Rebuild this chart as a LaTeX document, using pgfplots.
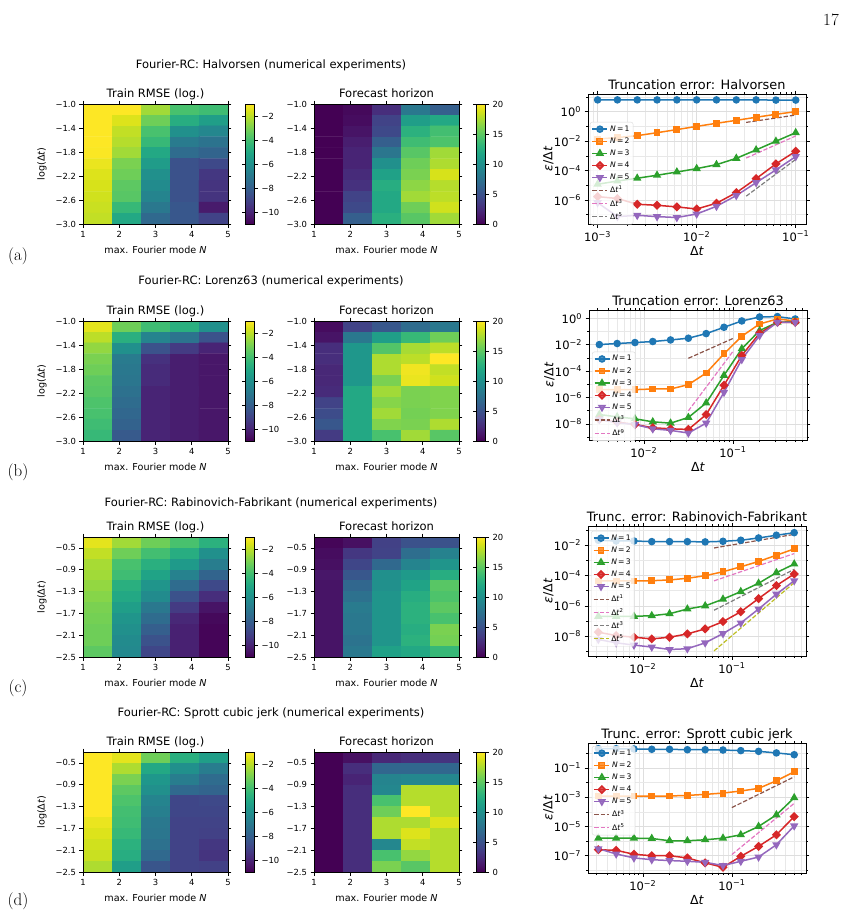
\documentclass[border=0pt]{standalone}
\usepackage{fontspec}
\usepackage{pgfplots}
\pgfplotsset{compat=1.18}
\newfontfamily\dv{DejaVu Sans}
\newcommand\hmtick{\dv\fontsize{8.4}{10}\selectfont}
\newcommand\hmlab{\dv\fontsize{9.6}{11}\selectfont}
\newcommand\hmtitle{\dv\fontsize{11.5}{13}\selectfont}
\newcommand\lptick{\dv\fontsize{11.5}{13}\selectfont}
\newcommand\lptitle{\dv\fontsize{12.9}{15}\selectfont}
\newcommand\lplab{\dv\fontsize{12.5}{15}\selectfont}
\newcommand\lgfont{\dv\fontsize{7.6}{9}\selectfont}

\definecolor{tabblue}{HTML}{1F77B4}
\definecolor{taborange}{HTML}{FF7F0E}
\definecolor{tabgreen}{HTML}{2CA02C}
\definecolor{tabred}{HTML}{D62728}
\definecolor{tabpurple}{HTML}{9467BD}
\definecolor{tabbrown}{HTML}{8C564B}
\definecolor{tabpink}{HTML}{E377C2}
\definecolor{tabgray}{HTML}{7F7F7F}
\definecolor{tabolive}{HTML}{BCBD22}

\pgfplotsset{
  heat axis/.style={
    scale only axis, width=145pt, height=120pt, enlargelimits=false,
    xmin=1, xmax=5, xtick={1,2,3,4,5}, xticklabels={1,2,3,4,5},
    tick align=outside, major tick length=3.5pt,
    every tick/.style={black, line width=0.6pt},
    axis line style={black, line width=0.6pt},
    tick label style={font=\hmtick},
    xlabel={max. Fourier mode \textit{N}},
    xlabel style={font=\hmlab, at={(0.5,-0.22)}, anchor=center},
    ylabel style={font=\hmlab, at={(-0.283,0.5)}, anchor=center},
    title style={font=\hmtitle, at={(0.5,1)}, anchor=base, yshift=0.5pt},
    colormap/viridis, axis on top,
    colorbar,
    colorbar style={at={(parent axis.north east)}, anchor=north west,
      xshift=9pt, width=9pt, height=120pt, scale only axis,
      tick align=outside, major tick length=3.5pt,
      every tick/.style={black, line width=0.6pt},
      axis line style={black, line width=0.6pt},
      tick label style={font=\hmtick}, yticklabel pos=right},
  },
  heat dt long/.style={ymin=-3, ymax=-1, ytick={-3,-2.6,-2.2,-1.8,-1.4,-1},
    yticklabels={−3.0,−2.6,−2.2,−1.8,−1.4,−1.0}},
  heat dt short/.style={ymin=-2.5, ymax=-0.3, ytick={-2.5,-2.1,-1.7,-1.3,-0.9,-0.5},
    yticklabels={−2.5,−2.1,−1.7,−1.3,−0.9,−0.5}},
  rmse map/.style={title={Train RMSE (log.)}, point meta min=-11, point meta max=-1,
    colorbar style={ytick={-10,-8,-6,-4,-2}, yticklabels={−10,−8,−6,−4,−2}}},
  horizon map/.style={title={Forecast horizon}, point meta min=0, point meta max=20,
    colorbar style={ytick={0,5,10,15,20}, yticklabels={0,5,10,15,20}}},
  heat cells/.style={matrix plot*, mesh/cols=5, point meta=explicit},
  trunc axis/.style={
    scale only axis, width=218pt, height=130pt,
    tick align=outside, major tick length=3.5pt, minor tick length=2pt,
    every tick/.style={black, line width=0.6pt},
    axis line style={black, line width=0.6pt},
    grid=both, major grid style={black!13, line width=0.6pt},
    minor grid style={black!9, line width=0.5pt},
    tick label style={font=\lptick},
    title style={font=\lptitle, at={(0.5,1)}, anchor=base, yshift=-1.7pt},
    xlabel={Δ\textit{t}}, ylabel={\textit{ε}/Δ\textit{t}},
    xlabel style={font=\lplab, at={(0.5,-0.21)}, anchor=center},
    ylabel style={font=\lplab, at={(-0.182,0.5)}, anchor=center},
    legend cell align=left,
    legend style={font=\lgfont, fill=white, fill opacity=0.8, text opacity=1,
      draw=black!15, rounded corners=2pt, inner sep=1.5pt, row sep=1pt,
      anchor=north west},
    legend image code/.code={\draw[mark repeat=2,mark phase=2]
      plot coordinates {(0pt,0pt) (7.5pt,0pt) (15pt,0pt)};},
  },
  trunc dt long/.style={xmin=8.0e-4, xmax=0.127, xtick={1e-3,1e-2,1e-1},
    xticklabels={10\textsuperscript{−3},10\textsuperscript{−2},10\textsuperscript{−1}},
    minor xtick={9e-4,2e-3,3e-3,4e-3,5e-3,6e-3,7e-3,8e-3,9e-3,2e-2,3e-2,4e-2,5e-2,6e-2,7e-2,8e-2,9e-2}},
  trunc dt short/.style={xmin=2.42e-3, xmax=0.68, xtick={1e-2,1e-1},
    xticklabels={10\textsuperscript{−2},10\textsuperscript{−1}},
    minor xtick={3e-3,4e-3,5e-3,6e-3,7e-3,8e-3,9e-3,2e-2,3e-2,4e-2,5e-2,6e-2,7e-2,8e-2,9e-2,0.2,0.3,0.4,0.5,0.6}},
  mode 1/.style={tabblue, line width=1.5pt, mark=*, mark size=3pt, mark options={solid}},
  mode 2/.style={taborange, line width=1.5pt, mark=square*, mark size=2.7pt, mark options={solid}},
  mode 3/.style={tabgreen, line width=1.5pt, mark=triangle*, mark size=3.4pt, mark options={solid}},
  mode 4/.style={tabred, line width=1.5pt, mark=square*, mark size=2.5pt, mark options={solid, rotate=45}},
  mode 5/.style={tabpurple, line width=1.5pt, mark=triangle*, mark size=3.4pt, mark options={solid, rotate=180}},
  order line/.style={no marks, line width=1.2pt, dash pattern=on 4.4pt off 1.9pt},
}

\begin{document}
\begin{tikzpicture}
\path[use as bounding box] (0,0) rectangle (844pt,-921pt);
\node[font=\fontsize{17}{20}\selectfont] at (831pt,-20pt) {17};

% ================= truncation-error panels =================
\begin{loglogaxis}[trunc axis, trunc dt long, at={(588pt,-94pt)}, anchor=north west,
  title={Truncation error: Halvorsen}, ymin=2.34e-8, ymax=15.8,
  ytick={1e-6,1e-4,1e-2,1}, yticklabels={10\textsuperscript{−6},10\textsuperscript{−4},10\textsuperscript{−2},10\textsuperscript{0}},
  minor ytick={1e-7,1e-5,1e-3,1e-1,10},
  legend style={at={(0.009,0.785)}}]
\addplot[mode 1] coordinates {(0.001,6.3) (0.001585,6.3) (0.002512,6.3) (0.003981,6.3) (0.00631,6.3) (0.01,6.3) (0.01585,6.3) (0.02512,6.3) (0.03981,6.3) (0.0631,6.1) (0.1,6.1)};
\addlegendentry{\textit{N}\,=\,1}
\addplot[mode 2] coordinates {(0.001,0.0138) (0.001585,0.0174) (0.002512,0.0234) (0.003981,0.0372) (0.00631,0.0603) (0.01,0.1) (0.01585,0.162) (0.02512,0.257) (0.03981,0.417) (0.0631,0.661) (0.1,1.0)};
\addlegendentry{\textit{N}\,=\,2}
\addplot[mode 3] coordinates {(0.001,1.17e-5) (0.001585,1.95e-5) (0.002512,3.02e-5) (0.003981,4.79e-5) (0.00631,7.94e-5) (0.01,1.35e-4) (0.01585,2.51e-4) (0.02512,6.76e-4) (0.03981,2.51e-3) (0.0631,9.77e-3) (0.1,3.72e-2)};
\addlegendentry{\textit{N}\,=\,3}
\addplot[mode 4] coordinates {(0.001,1.70e-6) (0.001585,1.26e-6) (0.002512,5.13e-7) (0.003981,4.37e-7) (0.00631,3.39e-7) (0.01,2.45e-7) (0.01585,6.03e-7) (0.02512,3.16e-6) (0.03981,2.82e-5) (0.0631,2.82e-4) (0.1,2.04e-3)};
\addlegendentry{\textit{N}\,=\,4}
\addplot[mode 5] coordinates {(0.001,6.61e-7) (0.001585,7.41e-8) (0.002512,9.12e-8) (0.003981,7.41e-8) (0.00631,6.46e-8) (0.01,1.12e-7) (0.01585,3.72e-7) (0.02512,2.0e-6) (0.03981,1.51e-5) (0.0631,1.10e-4) (0.1,8.91e-4)};
\addlegendentry{\textit{N}\,=\,5}
\addplot[order line, tabbrown] coordinates {(0.03162,0.186) (0.1,0.589)};
\addlegendentry{Δ\textit{t}\textsuperscript{1}}
\addplot[order line, tabpink] coordinates {(0.03162,7.08e-4) (0.1,0.0224)};
\addlegendentry{Δ\textit{t}\textsuperscript{3}}
\addplot[order line, tabgray] coordinates {(0.03162,1.82e-6) (0.1,5.75e-4)};
\addlegendentry{Δ\textit{t}\textsuperscript{5}}
\end{loglogaxis}

\begin{loglogaxis}[trunc axis, trunc dt short, at={(589pt,-310pt)}, anchor=north west,
  title={Truncation error: Lorenz63}, ymin=5.9e-10, ymax=4.27,
  ytick={1e-8,1e-6,1e-4,1e-2,1}, yticklabels={10\textsuperscript{−8},10\textsuperscript{−6},10\textsuperscript{−4},10\textsuperscript{−2},10\textsuperscript{0}},
  minor ytick={1e-9,1e-7,1e-5,1e-3,1e-1},
  legend style={at={(0.014,0.679)}}]
\addplot[mode 1] coordinates {(0.003162,1.02e-2) (0.005012,1.23e-2) (0.007943,1.45e-2) (0.01259,1.74e-2) (0.01995,2.29e-2) (0.03162,3.09e-2) (0.05012,6.92e-2) (0.07943,0.209) (0.1259,0.631) (0.1995,1.26) (0.3162,1.35) (0.5012,0.891)};
\addlegendentry{\textit{N}\,=\,1}
\addplot[mode 2] coordinates {(0.003162,3.89e-6) (0.005012,3.89e-6) (0.007943,3.89e-6) (0.01259,4.37e-6) (0.01995,4.37e-6) (0.03162,9.33e-6) (0.05012,7.08e-5) (0.07943,2.04e-3) (0.1259,4.37e-2) (0.1995,0.372) (0.3162,0.891) (0.5012,0.631)};
\addlegendentry{\textit{N}\,=\,2}
\addplot[mode 3] coordinates {(0.003162,5.01e-8) (0.005012,3.39e-8) (0.007943,2.40e-8) (0.01259,1.41e-8) (0.01995,1.12e-8) (0.03162,3.02e-8) (0.05012,3.80e-7) (0.07943,4.68e-5) (0.1259,4.90e-3) (0.1995,0.117) (0.3162,0.501) (0.5012,0.562)};
\addlegendentry{\textit{N}\,=\,3}
\addplot[mode 4] coordinates {(0.003162,2.14e-8) (0.005012,1.35e-8) (0.007943,8.91e-9) (0.01259,5.01e-9) (0.01995,4.17e-9) (0.03162,3.72e-9) (0.05012,5.01e-8) (0.07943,8.32e-6) (0.1259,1.51e-3) (0.1995,7.41e-2) (0.3162,0.501) (0.5012,0.501)};
\addlegendentry{\textit{N}\,=\,4}
\addplot[mode 5] coordinates {(0.003162,2.14e-8) (0.005012,1.20e-8) (0.007943,8.91e-9) (0.01259,4.17e-9) (0.01995,3.16e-9) (0.03162,2.0e-9) (0.05012,1.12e-8) (0.07943,2.45e-6) (0.1259,7.59e-4) (0.1995,4.90e-2) (0.3162,0.501) (0.5012,0.501)};
\addlegendentry{\textit{N}\,=\,5}
\addplot[order line, tabbrown] coordinates {(0.03162,9.33e-4) (0.1,0.0295)};
\addlegendentry{Δ\textit{t}\textsuperscript{3}}
\addplot[order line, tabpink] coordinates {(0.03162,9.55e-8) (0.1,3.02e-3)};
\addlegendentry{Δ\textit{t}\textsuperscript{9}}
\end{loglogaxis}

\begin{loglogaxis}[trunc axis, trunc dt short, at={(588pt,-526pt)}, anchor=north west,
  title={Trunc. error: Rabinovich-Fabrikant}, ymin=4.9e-10, ymax=0.186,
  ytick={1e-8,1e-6,1e-4,1e-2}, yticklabels={10\textsuperscript{−8},10\textsuperscript{−6},10\textsuperscript{−4},10\textsuperscript{−2}},
  minor ytick={1e-9,1e-7,1e-5,1e-3,1e-1},
  legend style={at={(0.014,0.962)}}]
\addplot[mode 1] coordinates {(0.003162,2.14e-2) (0.005012,1.91e-2) (0.007943,1.91e-2) (0.01259,1.74e-2) (0.01995,1.74e-2) (0.03162,1.74e-2) (0.05012,1.66e-2) (0.07943,1.82e-2) (0.1259,2.14e-2) (0.1995,3.02e-2) (0.3162,4.57e-2) (0.5012,6.76e-2)};
\addlegendentry{\textit{N}\,=\,1}
\addplot[mode 2] coordinates {(0.003162,4.37e-5) (0.005012,4.37e-5) (0.007943,4.37e-5) (0.01259,4.57e-5) (0.01995,5.13e-5) (0.03162,6.61e-5) (0.05012,9.77e-5) (0.07943,1.78e-4) (0.1259,3.80e-4) (0.1995,8.51e-4) (0.3162,2.19e-3) (0.5012,5.75e-3)};
\addlegendentry{\textit{N}\,=\,2}
\addplot[mode 3] coordinates {(0.003162,2.04e-7) (0.005012,2.04e-7) (0.007943,2.04e-7) (0.01259,2.24e-7) (0.01995,3.02e-7) (0.03162,6.17e-7) (0.05012,1.0e-6) (0.07943,2.75e-6) (0.1259,8.71e-6) (0.1995,3.09e-5) (0.3162,1.55e-4) (0.5012,5.75e-4)};
\addlegendentry{\textit{N}\,=\,3}
\addplot[mode 4] coordinates {(0.003162,1.82e-8) (0.005012,1.10e-8) (0.007943,8.51e-9) (0.01259,6.61e-9) (0.01995,8.51e-9) (0.03162,1.41e-8) (0.05012,3.02e-8) (0.07943,9.12e-8) (0.1259,4.07e-7) (0.1995,3.02e-6) (0.3162,2.19e-5) (0.5012,1.26e-4)};
\addlegendentry{\textit{N}\,=\,4}
\addplot[mode 5] coordinates {(0.003162,6.03e-9) (0.005012,3.63e-9) (0.007943,2.57e-9) (0.01259,1.91e-9) (0.01995,1.32e-9) (0.03162,1.48e-9) (0.05012,3.63e-9) (0.07943,1.48e-8) (0.1259,7.41e-8) (0.1995,6.17e-7) (0.3162,5.89e-6) (0.5012,4.57e-5)};
\addlegendentry{\textit{N}\,=\,5}
\addplot[order line, tabbrown] coordinates {(0.0631,6.61e-3) (0.5012,5.25e-2)};
\addlegendentry{Δ\textit{t}\textsuperscript{1}}
\addplot[order line, tabpink] coordinates {(0.0631,4.47e-5) (0.5012,2.82e-3)};
\addlegendentry{Δ\textit{t}\textsuperscript{2}}
\addplot[order line, tabgray] coordinates {(0.0631,5.13e-7) (0.5012,2.57e-4)};
\addlegendentry{Δ\textit{t}\textsuperscript{3}}
\addplot[order line, tabolive] coordinates {(0.0631,1.07e-9) (0.5012,3.39e-5)};
\addlegendentry{Δ\textit{t}\textsuperscript{5}}
\end{loglogaxis}

\begin{loglogaxis}[trunc axis, trunc dt short, at={(588pt,-743pt)}, anchor=north west,
  title={Trunc. error: Sprott cubic jerk}, ymin=6.6e-9, ymax=5.0,
  ytick={1e-7,1e-5,1e-3,1e-1}, yticklabels={10\textsuperscript{−7},10\textsuperscript{−5},10\textsuperscript{−3},10\textsuperscript{−1}},
  minor ytick={1e-8,1e-6,1e-4,1e-2,1},
  legend style={at={(0.018,0.977)}}]
\addplot[mode 1] coordinates {(0.003162,2.04) (0.005012,2.04) (0.007943,1.95) (0.01259,1.86) (0.01995,1.86) (0.03162,1.74) (0.05012,1.74) (0.07943,1.66) (0.1259,1.51) (0.1995,1.35) (0.3162,1.05) (0.5012,0.794)};
\addlegendentry{\textit{N}\,=\,1}
\addplot[mode 2] coordinates {(0.003162,1.20e-3) (0.005012,1.20e-3) (0.007943,1.20e-3) (0.01259,1.20e-3) (0.01995,1.20e-3) (0.03162,1.32e-3) (0.05012,1.55e-3) (0.07943,1.91e-3) (0.1259,2.63e-3) (0.1995,3.98e-3) (0.3162,1.32e-2) (0.5012,5.37e-2)};
\addlegendentry{\textit{N}\,=\,2}
\addplot[mode 3] coordinates {(0.003162,1.58e-6) (0.005012,1.58e-6) (0.007943,1.58e-6) (0.01259,1.51e-6) (0.01995,1.05e-6) (0.03162,1.05e-6) (0.05012,1.23e-6) (0.07943,1.58e-6) (0.1259,2.69e-6) (0.1995,1.0e-5) (0.3162,6.17e-5) (0.5012,9.12e-4)};
\addlegendentry{\textit{N}\,=\,3}
\addplot[mode 4] coordinates {(0.003162,2.57e-7) (0.005012,2.34e-7) (0.007943,1.26e-7) (0.01259,1.0e-7) (0.01995,1.0e-7) (0.03162,7.08e-8) (0.05012,3.24e-8) (0.07943,1.62e-8) (0.1259,9.12e-8) (0.1995,4.37e-7) (0.3162,2.69e-6) (0.5012,4.68e-5)};
\addlegendentry{\textit{N}\,=\,4}
\addplot[mode 5] coordinates {(0.003162,3.02e-7) (0.005012,1.32e-7) (0.007943,7.08e-8) (0.01259,5.37e-8) (0.01995,4.68e-8) (0.03162,4.17e-8) (0.05012,3.55e-8) (0.07943,2.14e-8) (0.1259,4.17e-8) (0.1995,8.13e-8) (0.3162,5.62e-7) (0.5012,1.10e-5)};
\addlegendentry{\textit{N}\,=\,5}
\addplot[order line, tabbrown] coordinates {(0.1,1.95e-4) (0.5012,2.45e-2)};
\addlegendentry{Δ\textit{t}\textsuperscript{3}}
\addplot[order line, tabpink] coordinates {(0.1,1.20e-7) (0.5012,3.80e-4)};
\addlegendentry{Δ\textit{t}\textsuperscript{5}}
\end{loglogaxis}

% ================= heat maps =================
% (a) Halvorsen
\node[font=\hmtitle] at (271pt,-65pt) {Fourier-RC: Halvorsen (numerical experiments)};
\node[font=\fontsize{17}{20}\selectfont] at (18pt,-256pt) {(a)};

\begin{axis}[heat axis, heat dt long, rmse map, at={(83pt,-104pt)}, anchor=north west, ylabel={log(Δ\textit{t})}]
\addplot[heat cells] coordinates {
(1.4,-1.0909)[-1.0] (2.2,-1.0909)[-1.0] (3.0,-1.0909)[-2.4] (3.8,-1.0909)[-3.9] (4.6,-1.0909)[-4.1]
(1.4,-1.2727)[-1.0] (2.2,-1.2727)[-1.5] (3.0,-1.2727)[-3.2] (3.8,-1.2727)[-4.8] (4.6,-1.2727)[-5.4]
(1.4,-1.4545)[-1.0] (2.2,-1.4545)[-1.9] (3.0,-1.4545)[-3.9] (3.8,-1.4545)[-6.0] (4.6,-1.4545)[-6.4]
(1.4,-1.6364)[-1.0] (2.2,-1.6364)[-2.1] (3.0,-1.6364)[-4.3] (3.8,-1.6364)[-6.9] (4.6,-1.6364)[-7.2]
(1.4,-1.8182)[-1.05] (2.2,-1.8182)[-2.4] (3.0,-1.8182)[-5.0] (3.8,-1.8182)[-7.5] (4.6,-1.8182)[-7.8]
(1.4,-2.0)[-1.3] (2.2,-2.0)[-3.0] (3.0,-2.0)[-5.5] (3.8,-2.0)[-8.5] (4.6,-2.0)[-8.8]
(1.4,-2.1818)[-1.5] (2.2,-2.1818)[-3.2] (3.0,-2.1818)[-6.0] (3.8,-2.1818)[-8.5] (4.6,-2.1818)[-9.4]
(1.4,-2.3636)[-1.6] (2.2,-2.3636)[-3.5] (3.0,-2.3636)[-6.2] (3.8,-2.3636)[-8.5] (4.6,-2.3636)[-9.5]
(1.4,-2.5455)[-1.7] (2.2,-2.5455)[-3.6] (3.0,-2.5455)[-6.5] (3.8,-2.5455)[-8.5] (4.6,-2.5455)[-9.5]
(1.4,-2.7273)[-1.8] (2.2,-2.7273)[-4.3] (3.0,-2.7273)[-7.0] (3.8,-2.7273)[-8.3] (4.6,-2.7273)[-10.3]
(1.4,-2.9091)[-1.9] (2.2,-2.9091)[-5.0] (3.0,-2.9091)[-7.6] (3.8,-2.9091)[-8.3] (4.6,-2.9091)[-9.0]
};
\end{axis}

\begin{axis}[heat axis, heat dt long, horizon map, at={(314pt,-104pt)}, anchor=north west]
\addplot[heat cells] coordinates {
(1.4,-1.0909)[0.0] (2.2,-1.0909)[0.4] (3.0,-1.0909)[2.6] (3.8,-1.0909)[8.0] (4.6,-1.0909)[6.0]
(1.4,-1.2727)[0.0] (2.2,-1.2727)[0.6] (3.0,-1.2727)[4.0] (3.8,-1.2727)[11.2] (4.6,-1.2727)[12.0]
(1.4,-1.4545)[0.0] (2.2,-1.4545)[1.0] (3.0,-1.4545)[4.4] (3.8,-1.4545)[12.8] (4.6,-1.4545)[14.0]
(1.4,-1.6364)[0.0] (2.2,-1.6364)[1.6] (3.0,-1.6364)[6.0] (3.8,-1.6364)[13.8] (4.6,-1.6364)[14.4]
(1.4,-1.8182)[0.0] (2.2,-1.8182)[2.0] (3.0,-1.8182)[7.8] (3.8,-1.8182)[14.8] (4.6,-1.8182)[17.2]
(1.4,-2.0)[0.0] (2.2,-2.0)[2.0] (3.0,-2.0)[10.0] (3.8,-2.0)[15.6] (4.6,-2.0)[17.6]
(1.4,-2.1818)[0.0] (2.2,-2.1818)[2.4] (3.0,-2.1818)[11.4] (3.8,-2.1818)[16.0] (4.6,-2.1818)[18.8]
(1.4,-2.3636)[0.0] (2.2,-2.3636)[2.8] (3.0,-2.3636)[12.4] (3.8,-2.3636)[16.6] (4.6,-2.3636)[17.8]
(1.4,-2.5455)[0.0] (2.2,-2.5455)[4.0] (3.0,-2.5455)[12.0] (3.8,-2.5455)[17.2] (4.6,-2.5455)[18.0]
(1.4,-2.7273)[0.0] (2.2,-2.7273)[4.4] (3.0,-2.7273)[12.0] (3.8,-2.7273)[15.6] (4.6,-2.7273)[18.6]
(1.4,-2.9091)[0.0] (2.2,-2.9091)[6.0] (3.0,-2.9091)[12.6] (3.8,-2.9091)[14.8] (4.6,-2.9091)[17.2]
};
\end{axis}

% (b) Lorenz63
\node[font=\hmtitle] at (271pt,-281pt) {Fourier-RC: Lorenz63 (numerical experiments)};
\node[font=\fontsize{17}{20}\selectfont] at (18pt,-472pt) {(b)};

\begin{axis}[heat axis, heat dt long, rmse map, at={(83pt,-321pt)}, anchor=north west, ylabel={log(Δ\textit{t})}]
\addplot[heat cells] coordinates {
(1.4,-1.0909)[-1.4] (2.2,-1.0909)[-3.2] (3.0,-1.0909)[-4.1] (3.8,-1.0909)[-4.7] (4.6,-1.0909)[-6.0]
(1.4,-1.2727)[-2.0] (2.2,-1.2727)[-4.7] (3.0,-1.2727)[-6.5] (3.8,-1.2727)[-7.2] (4.6,-1.2727)[-8.5]
(1.4,-1.4545)[-2.6] (2.2,-1.4545)[-6.0] (3.0,-1.4545)[-8.5] (3.8,-1.4545)[-9.3] (4.6,-1.4545)[-10.0]
(1.4,-1.6364)[-3.0] (2.2,-1.6364)[-6.9] (3.0,-1.6364)[-9.6] (3.8,-1.6364)[-10.2] (4.6,-1.6364)[-10.4]
(1.4,-1.8182)[-3.2] (2.2,-1.8182)[-7.0] (3.0,-1.8182)[-9.8] (3.8,-1.8182)[-10.2] (4.6,-1.8182)[-10.4]
(1.4,-2.0)[-3.5] (2.2,-2.0)[-7.1] (3.0,-2.0)[-9.8] (3.8,-2.0)[-10.2] (4.6,-2.0)[-10.4]
(1.4,-2.1818)[-3.6] (2.2,-2.1818)[-7.3] (3.0,-2.1818)[-10.0] (3.8,-2.1818)[-10.2] (4.6,-2.1818)[-10.4]
(1.4,-2.3636)[-3.8] (2.2,-2.3636)[-7.5] (3.0,-2.3636)[-10.0] (3.8,-2.3636)[-10.2] (4.6,-2.3636)[-10.4]
(1.4,-2.5455)[-3.9] (2.2,-2.5455)[-7.7] (3.0,-2.5455)[-10.0] (3.8,-2.5455)[-10.2] (4.6,-2.5455)[-10.4]
(1.4,-2.7273)[-4.1] (2.2,-2.7273)[-7.9] (3.0,-2.7273)[-10.0] (3.8,-2.7273)[-10.2] (4.6,-2.7273)[-10.4]
(1.4,-2.9091)[-4.3] (2.2,-2.9091)[-8.2] (3.0,-2.9091)[-10.0] (3.8,-2.9091)[-10.2] (4.6,-2.9091)[-10.4]
};
\end{axis}

\begin{axis}[heat axis, heat dt long, horizon map, at={(314pt,-321pt)}, anchor=north west]
\addplot[heat cells] coordinates {
(1.4,-1.0909)[0.6] (2.2,-1.0909)[4.0] (3.0,-1.0909)[5.4] (3.8,-1.0909)[7.0] (4.6,-1.0909)[8.0]
(1.4,-1.2727)[1.0] (2.2,-1.2727)[8.0] (3.0,-1.2727)[11.2] (3.8,-1.2727)[13.4] (4.6,-1.2727)[15.6]
(1.4,-1.4545)[2.6] (2.2,-1.4545)[10.6] (3.0,-1.4545)[14.6] (3.8,-1.4545)[17.4] (4.6,-1.4545)[18.0]
(1.4,-1.6364)[2.6] (2.2,-1.6364)[10.6] (3.0,-1.6364)[17.6] (3.8,-1.6364)[18.0] (4.6,-1.6364)[20.0]
(1.4,-1.8182)[2.2] (2.2,-1.8182)[10.6] (3.0,-1.8182)[17.6] (3.8,-1.8182)[19.6] (4.6,-1.8182)[18.2]
(1.4,-2.0)[2.2] (2.2,-2.0)[10.6] (3.0,-2.0)[16.0] (3.8,-2.0)[19.4] (4.6,-2.0)[18.6]
(1.4,-2.1818)[2.4] (2.2,-2.1818)[12.0] (3.0,-2.1818)[17.2] (3.8,-2.1818)[16.0] (4.6,-2.1818)[16.2]
(1.4,-2.3636)[4.0] (2.2,-2.3636)[12.0] (3.0,-2.3636)[16.4] (3.8,-2.3636)[16.0] (4.6,-2.3636)[16.2]
(1.4,-2.5455)[4.6] (2.2,-2.5455)[12.0] (3.0,-2.5455)[17.2] (3.8,-2.5455)[15.8] (4.6,-2.5455)[16.2]
(1.4,-2.7273)[5.4] (2.2,-2.7273)[12.0] (3.0,-2.7273)[16.2] (3.8,-2.7273)[16.0] (4.6,-2.7273)[17.6]
(1.4,-2.9091)[3.4] (2.2,-2.9091)[12.0] (3.0,-2.9091)[14.2] (3.8,-2.9091)[17.2] (4.6,-2.9091)[14.8]
};
\end{axis}

% (c) Rabinovich-Fabrikant
\node[font=\hmtitle] at (271pt,-503pt) {Fourier-RC: Rabinovich-Fabrikant (numerical experiments)};
\node[font=\fontsize{17}{20}\selectfont] at (18pt,-688pt) {(c)};

\begin{axis}[heat axis, heat dt short, rmse map, at={(83pt,-537pt)}, anchor=north west, ylabel={log(Δ\textit{t})}]
\addplot[heat cells] coordinates {
(1.4,-0.4)[-1.4] (2.2,-0.4)[-2.4] (3.0,-0.4)[-3.2] (3.8,-0.4)[-3.9] (4.6,-0.4)[-4.6]
(1.4,-0.6)[-1.9] (2.2,-0.6)[-3.2] (3.0,-0.6)[-4.0] (3.8,-0.6)[-4.8] (4.6,-0.6)[-6.0]
(1.4,-0.8)[-2.3] (2.2,-0.8)[-3.9] (3.0,-0.8)[-4.7] (3.8,-0.8)[-5.6] (4.6,-0.8)[-6.8]
(1.4,-1.0)[-2.4] (2.2,-1.0)[-4.1] (3.0,-1.0)[-5.2] (3.8,-1.0)[-6.6] (4.6,-1.0)[-7.8]
(1.4,-1.2)[-2.6] (2.2,-1.2)[-4.7] (3.0,-1.2)[-5.8] (3.8,-1.2)[-7.5] (4.6,-1.2)[-8.8]
(1.4,-1.4)[-2.8] (2.2,-1.4)[-5.0] (3.0,-1.4)[-6.2] (3.8,-1.4)[-8.5] (4.6,-1.4)[-9.7]
(1.4,-1.6)[-3.0] (2.2,-1.6)[-5.4] (3.0,-1.6)[-7.0] (3.8,-1.6)[-9.3] (4.6,-1.6)[-10.5]
(1.4,-1.8)[-3.1] (2.2,-1.8)[-5.8] (3.0,-1.8)[-7.5] (3.8,-1.8)[-9.9] (4.6,-1.8)[-10.8]
(1.4,-2.0)[-3.2] (2.2,-2.0)[-6.0] (3.0,-2.0)[-8.0] (3.8,-2.0)[-10.1] (4.6,-2.0)[-10.9]
(1.4,-2.2)[-3.2] (2.2,-2.2)[-6.2] (3.0,-2.2)[-8.5] (3.8,-2.2)[-10.1] (4.6,-2.2)[-10.9]
(1.4,-2.4)[-3.5] (2.2,-2.4)[-6.3] (3.0,-2.4)[-8.9] (3.8,-2.4)[-10.1] (4.6,-2.4)[-10.9]
};
\end{axis}

\begin{axis}[heat axis, heat dt short, horizon map, at={(314pt,-537pt)}, anchor=north west]
\addplot[heat cells] coordinates {
(1.4,-0.4)[0.2] (2.2,-0.4)[0.8] (3.0,-0.4)[3.8] (3.8,-0.4)[5.0] (4.6,-0.4)[5.0]
(1.4,-0.6)[0.6] (2.2,-0.6)[3.2] (3.0,-0.6)[4.0] (3.8,-0.6)[7.2] (4.6,-0.6)[8.8]
(1.4,-0.8)[0.8] (2.2,-0.8)[4.2] (3.0,-0.8)[6.8] (3.8,-0.8)[9.0] (4.6,-0.8)[10.4]
(1.4,-1.0)[1.2] (2.2,-1.0)[5.4] (3.0,-1.0)[10.0] (3.8,-1.0)[10.8] (4.6,-1.0)[12.4]
(1.4,-1.2)[1.0] (2.2,-1.2)[6.6] (3.0,-1.2)[10.0] (3.8,-1.2)[11.6] (4.6,-1.2)[14.8]
(1.4,-1.4)[1.0] (2.2,-1.4)[7.4] (3.0,-1.4)[10.4] (3.8,-1.4)[12.4] (4.6,-1.4)[14.4]
(1.4,-1.6)[1.0] (2.2,-1.6)[8.2] (3.0,-1.6)[10.4] (3.8,-1.6)[12.8] (4.6,-1.6)[15.0]
(1.4,-1.8)[1.0] (2.2,-1.8)[8.0] (3.0,-1.8)[10.4] (3.8,-1.8)[12.8] (4.6,-1.8)[14.2]
(1.4,-2.0)[1.0] (2.2,-2.0)[8.0] (3.0,-2.0)[10.4] (3.8,-2.0)[12.4] (4.6,-2.0)[16.0]
(1.4,-2.2)[1.0] (2.2,-2.2)[7.6] (3.0,-2.2)[10.4] (3.8,-2.2)[12.8] (4.6,-2.2)[15.8]
(1.4,-2.4)[1.0] (2.2,-2.4)[8.0] (3.0,-2.4)[11.4] (3.8,-2.4)[12.0] (4.6,-2.4)[13.4]
};
\end{axis}

% (d) Sprott cubic jerk
\node[font=\hmtitle] at (271pt,-713pt) {Fourier-RC: Sprott cubic jerk (numerical experiments)};
\node[font=\fontsize{17}{20}\selectfont] at (18pt,-901pt) {(d)};

\begin{axis}[heat axis, heat dt short, rmse map, at={(83pt,-752pt)}, anchor=north west, ylabel={log(Δ\textit{t})}]
\addplot[heat cells] coordinates {
(1.4,-0.4)[-1.0] (2.2,-0.4)[-1.4] (3.0,-0.4)[-3.2] (3.8,-0.4)[-4.7] (4.6,-0.4)[-5.4]
(1.4,-0.6)[-1.0] (2.2,-0.6)[-2.2] (3.0,-0.6)[-5.0] (3.8,-0.6)[-6.0] (4.6,-0.6)[-6.8]
(1.4,-0.8)[-1.0] (2.2,-0.8)[-3.0] (3.0,-0.8)[-5.7] (3.8,-0.8)[-6.8] (4.6,-0.8)[-7.5]
(1.4,-1.0)[-1.0] (2.2,-1.0)[-3.5] (3.0,-1.0)[-6.0] (3.8,-1.0)[-7.6] (4.6,-1.0)[-7.8]
(1.4,-1.2)[-1.0] (2.2,-1.2)[-3.8] (3.0,-1.2)[-6.5] (3.8,-1.2)[-8.9] (4.6,-1.2)[-8.8]
(1.4,-1.4)[-1.0] (2.2,-1.4)[-4.0] (3.0,-1.4)[-6.7] (3.8,-1.4)[-8.9] (4.6,-1.4)[-8.9]
(1.4,-1.6)[-1.3] (2.2,-1.6)[-4.1] (3.0,-1.6)[-7.0] (3.8,-1.6)[-9.0] (4.6,-1.6)[-9.0]
(1.4,-1.8)[-1.5] (2.2,-1.8)[-4.3] (3.0,-1.8)[-7.1] (3.8,-1.8)[-9.0] (4.6,-1.8)[-9.1]
(1.4,-2.0)[-1.7] (2.2,-2.0)[-4.6] (3.0,-2.0)[-7.3] (3.8,-2.0)[-9.0] (4.6,-2.0)[-9.4]
(1.4,-2.2)[-1.8] (2.2,-2.2)[-4.8] (3.0,-2.2)[-7.6] (3.8,-2.2)[-9.0] (4.6,-2.2)[-9.5]
(1.4,-2.4)[-2.2] (2.2,-2.4)[-5.4] (3.0,-2.4)[-8.4] (3.8,-2.4)[-9.0] (4.6,-2.4)[-9.1]
};
\end{axis}

\begin{axis}[heat axis, heat dt short, horizon map, at={(314pt,-752pt)}, anchor=north west]
\addplot[heat cells] coordinates {
(1.4,-0.4)[0.0] (2.2,-0.4)[0.8] (3.0,-0.4)[2.2] (3.8,-0.4)[2.6] (4.6,-0.4)[3.0]
(1.4,-0.6)[0.0] (2.2,-0.6)[2.6] (3.0,-0.6)[6.6] (3.8,-0.6)[6.6] (4.6,-0.6)[6.6]
(1.4,-0.8)[0.0] (2.2,-0.8)[2.0] (3.0,-0.8)[9.0] (3.8,-0.8)[9.2] (4.6,-0.8)[9.2]
(1.4,-1.0)[0.0] (2.2,-1.0)[2.6] (3.0,-1.0)[9.2] (3.8,-1.0)[17.8] (4.6,-1.0)[17.8]
(1.4,-1.2)[0.0] (2.2,-1.2)[2.6] (3.0,-1.2)[14.2] (3.8,-1.2)[17.8] (4.6,-1.2)[17.8]
(1.4,-1.4)[0.0] (2.2,-1.4)[2.6] (3.0,-1.4)[15.6] (3.8,-1.4)[20.0] (4.6,-1.4)[17.8]
(1.4,-1.6)[0.0] (2.2,-1.6)[2.6] (3.0,-1.6)[17.6] (3.8,-1.6)[17.6] (4.6,-1.6)[19.0]
(1.4,-1.8)[0.0] (2.2,-1.8)[2.6] (3.0,-1.8)[17.6] (3.8,-1.8)[19.0] (4.6,-1.8)[17.8]
(1.4,-2.0)[0.0] (2.2,-2.0)[2.6] (3.0,-2.0)[9.2] (3.8,-2.0)[18.2] (4.6,-2.0)[17.8]
(1.4,-2.2)[0.0] (2.2,-2.2)[2.6] (3.0,-2.2)[14.2] (3.8,-2.2)[16.8] (4.6,-2.2)[17.8]
(1.4,-2.4)[0.0] (2.2,-2.4)[2.6] (3.0,-2.4)[16.0] (3.8,-2.4)[14.8] (4.6,-2.4)[17.8]
};
\end{axis}
\end{tikzpicture}
\end{document}
